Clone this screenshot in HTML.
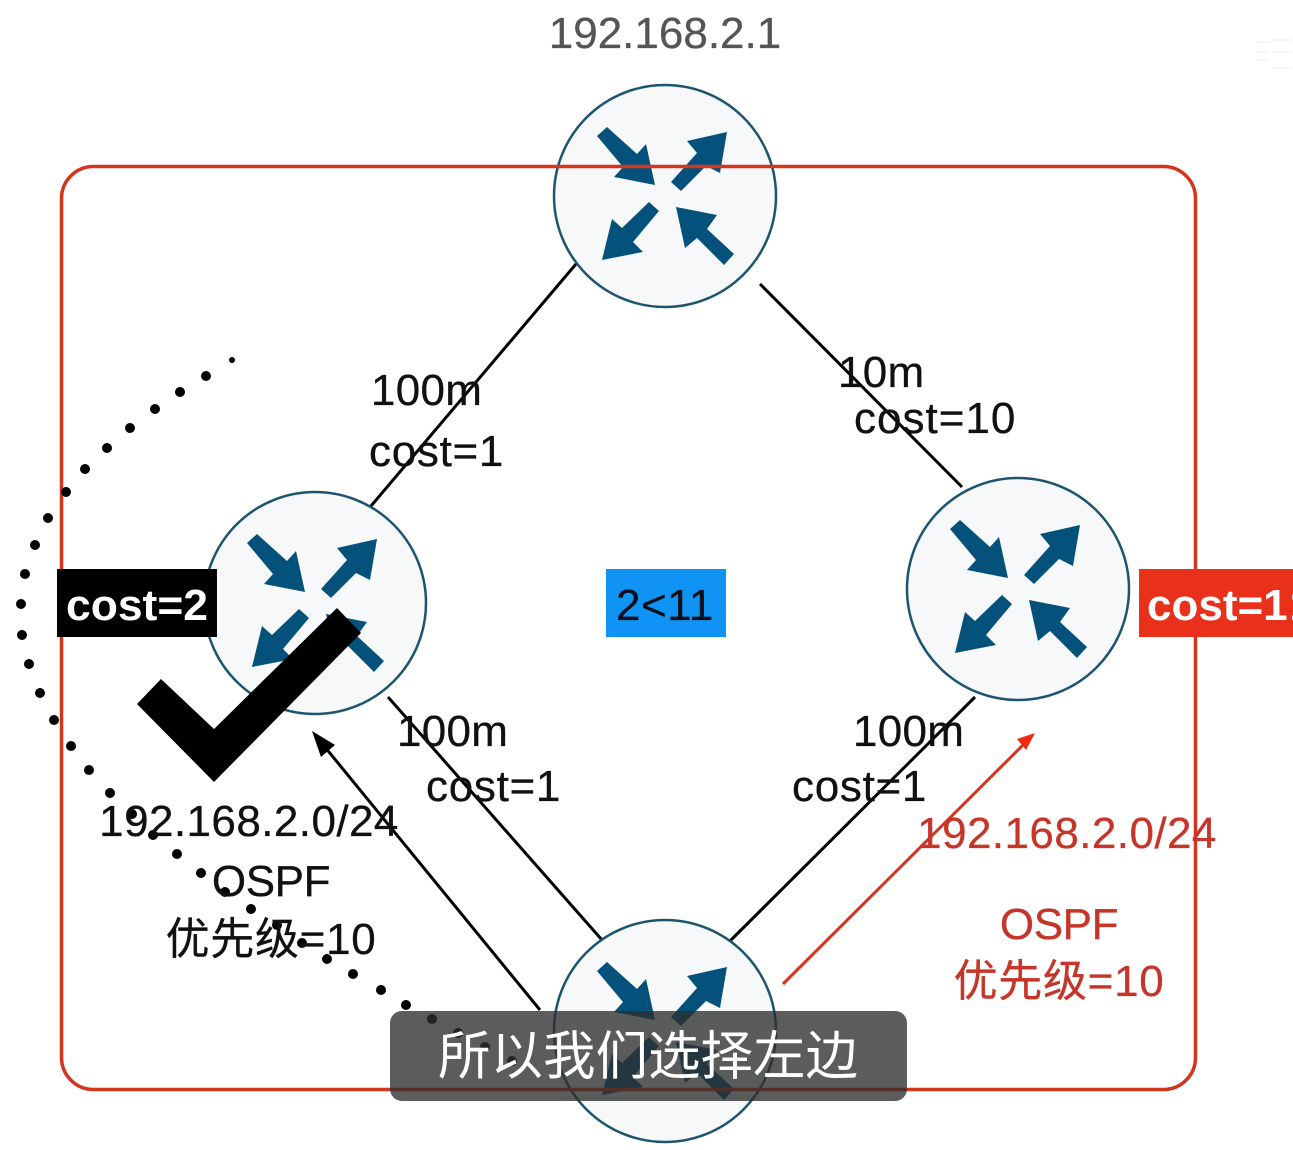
<!DOCTYPE html>
<html><head><meta charset="utf-8">
<style>
html,body{margin:0;padding:0;background:#fff;width:1293px;height:1150px;overflow:hidden}
svg{display:block;position:absolute;left:0;top:0}
text{font-family:"Liberation Sans","Noto Sans CJK SC",sans-serif}
</style></head><body>
<svg width="1293" height="1150" viewBox="0 0 1293 1150" xmlns="http://www.w3.org/2000/svg">
<defs>
<g id="router">
<circle r="111" fill="#f7f8f9" stroke="#1d5570" stroke-width="2.5"/>
<g fill="#04527c">
<polygon points="-68,-60 -58,-69 -28,-42 -19,-52 -10,-11 -51,-19 -42,-29"/>
<polygon points="6,-14 16,-5 41,-30 55,-23 62,-64 22,-55 32,-43"/>
<polygon points="-6,15 -16,6 -43,32 -53,23 -63,64 -22,56 -32,46"/>
<polygon points="69,58 59,69 32,42 20,52 11,11 52,19 42,33"/>
</g>
</g>
</defs>
<rect width="1293" height="1150" fill="#fff"/>

<g stroke="#000" stroke-width="3" fill="none">
<line x1="576" y1="264" x2="371" y2="506"/>
<line x1="760" y1="284" x2="962" y2="487"/>
<line x1="388" y1="697" x2="602" y2="940"/>
<line x1="975" y1="697" x2="730" y2="941"/>
<line x1="540" y1="1010" x2="320" y2="741"/>
</g>
<polygon points="312,731 335,745 321,757" fill="#000"/>
<line x1="783" y1="984" x2="1027" y2="741" stroke="#d5341f" stroke-width="3"/>
<polygon points="1035,733 1026,750 1017,739" fill="#f02a10"/>

<use href="#router" x="665" y="196"/>
<use href="#router" x="315" y="603"/>
<use href="#router" x="1018" y="589"/>
<use href="#router" x="665" y="1031"/>

<rect x="61.5" y="166.5" width="1134" height="923" rx="32" fill="none" stroke="#d5341f" stroke-width="3.5"/>

<g fill="#000">
<circle cx="232" cy="360" r="3"/><circle cx="206" cy="376" r="5"/><circle cx="180" cy="392" r="5"/><circle cx="155" cy="409" r="5"/><circle cx="130" cy="428" r="5"/><circle cx="107" cy="448" r="5"/><circle cx="85" cy="469" r="5"/>
<circle cx="66" cy="492" r="5"/><circle cx="48" cy="518" r="5"/><circle cx="35" cy="545" r="5"/><circle cx="25" cy="574" r="5"/><circle cx="21" cy="604" r="5"/><circle cx="22" cy="635" r="5"/><circle cx="29" cy="664" r="5"/><circle cx="40" cy="693" r="5"/><circle cx="54" cy="720" r="5"/><circle cx="71" cy="746" r="5"/><circle cx="89" cy="770" r="5"/>
<circle cx="110" cy="793" r="5"/><circle cx="132" cy="814" r="5"/><circle cx="153" cy="835" r="5"/><circle cx="177" cy="854" r="5"/><circle cx="201" cy="873" r="5"/><circle cx="225" cy="892" r="5"/><circle cx="251" cy="909" r="5"/><circle cx="277" cy="925" r="5"/><circle cx="302" cy="943" r="5"/><circle cx="327" cy="959" r="5"/><circle cx="353" cy="974" r="5"/><circle cx="381" cy="990" r="5"/><circle cx="406" cy="1005" r="5"/><circle cx="432" cy="1019" r="5"/><circle cx="458" cy="1033" r="5"/><circle cx="485" cy="1047" r="5"/><circle cx="512" cy="1061" r="5"/>
</g>

<rect x="606" y="569" width="120" height="68" fill="#0f93f5"/>
<rect x="57" y="569" width="160" height="68" fill="#000"/>
<rect x="1139" y="569" width="154" height="68" fill="#e8301a"/>
<polygon points="337,608 361,633 214,782 137,704 161,679 214,729" fill="#000"/>

<g font-size="44" fill="#111" stroke="#111" stroke-width=".3">
<text x="665" y="48" text-anchor="middle" fill="#555" stroke="#555">192.168.2.1</text>
<text x="371" y="405" letter-spacing=".3">100m</text>
<text x="369" y="466" letter-spacing=".7">cost=1</text>
<text x="838" y="387" letter-spacing=".3">10m</text>
<text x="854" y="433" letter-spacing="1">cost=10</text>
<text x="397" y="746" letter-spacing=".3">100m</text>
<text x="426" y="801" letter-spacing=".7">cost=1</text>
<text x="853" y="746" letter-spacing=".3">100m</text>
<text x="792" y="801" letter-spacing=".7">cost=1</text>
<text x="616" y="620" fill="#04101c" letter-spacing=".5">2&lt;11</text>
<text x="249" y="836" text-anchor="middle" letter-spacing=".43">192.168.2.0/24</text>
<text x="271" y="896" text-anchor="middle" letter-spacing="-.4">OSPF</text>
<text x="271" y="954" text-anchor="middle" letter-spacing=".7">优先级=10</text>
<g fill="#c6352a" stroke="#c6352a">
<text x="1067" y="848" text-anchor="middle" letter-spacing=".43">192.168.2.0/24</text>
<text x="1059" y="939" text-anchor="middle" letter-spacing="-.4">OSPF</text>
<text x="1059" y="996" text-anchor="middle" letter-spacing=".7">优先级=10</text>
</g>
</g>
<text x="66" y="620" font-size="44" font-weight="bold" fill="#fff" textLength="142" lengthAdjust="spacingAndGlyphs">cost=2</text>
<text x="1147" y="620" font-size="44" font-weight="bold" fill="#fff">cost=1<tspan dx="4">1</tspan></text>

<rect x="390" y="1011" width="517" height="90" rx="12" fill="#2e2e2e" fill-opacity="0.78"/>
<text x="648" y="1074" font-size="52.5" text-anchor="middle" fill="#fff">所以我们选择左边</text>

<g stroke="#eee" stroke-width="2" fill="none" opacity=".6">
<path d="M1256 42h14M1256 52h14M1257 60h12M1272 40h20M1272 52h20M1272 68h20"/>
</g>
</svg>
</body></html>
